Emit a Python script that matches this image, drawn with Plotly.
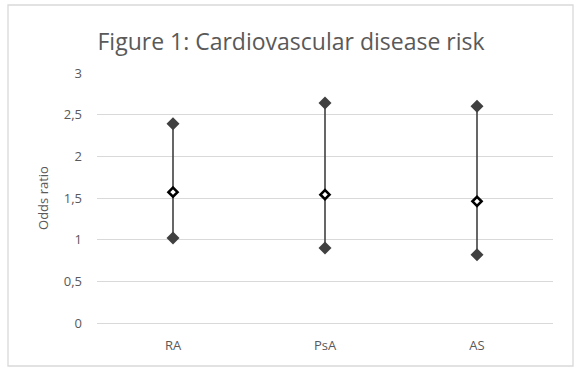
import plotly.graph_objects as go

categories = ["RA", "PsA", "AS"]
upper = [2.39, 2.64, 2.60]
mid = [1.57, 1.54, 1.46]
lower = [1.02, 0.90, 0.82]
y_ticks = [0, 0.5, 1, 1.5, 2, 2.5, 3]
y_tick_labels = ["0", "0,5", "1", "1,5", "2", "2,5", "3"]

FONT = "Open Sans"
GREY_TXT = "#595959"
LINE = "#404040"

fig = go.Figure()

# high-low lines with diamond end markers
for c, lo, hi in zip(categories, lower, upper):
    fig.add_trace(go.Scatter(
        x=[c, c], y=[lo, hi], mode="lines+markers",
        line=dict(color=LINE, width=1.6),
        marker=dict(symbol="diamond", size=10, color=LINE),
        showlegend=False, hoverinfo="y"))

fig.add_trace(go.Scatter(
    x=categories, y=mid, mode="markers",
    marker=dict(symbol="diamond", size=7, color="white",
                line=dict(color="black", width=2.6)),
    showlegend=False, hoverinfo="y"))

W, H = 582, 374
L, R, T, B = 97, 29, 73, 51
pw, ph = W - L - R, H - T - B

def px(x):
    return (x - L) / pw

def py(y):
    return (H - B - y) / ph

fig.add_shape(type="rect", xref="paper", yref="paper",
              x0=px(8), x1=px(573), y0=py(366), y1=py(5),
              line=dict(color="#d9d9d9", width=1.3), fillcolor="rgba(0,0,0,0)",
              layer="below")

fig.update_layout(
    width=W, height=H,
    margin=dict(l=L, r=R, t=T, b=B),
    paper_bgcolor="white", plot_bgcolor="white",
    title=dict(text="Figure 1: Cardiovascular disease risk",
               font=dict(family=FONT, size=23, color=GREY_TXT),
               x=0.5, xanchor="center", y=1 - 42 / H, yanchor="middle"),
    font=dict(family=FONT, color=GREY_TXT, size=12),
    xaxis=dict(type="category", range=[-0.5, 2.5], showgrid=False, showline=True,
               linecolor="#d9d9d9", linewidth=1, ticks="",
               ticklabelstandoff=10,
               tickfont=dict(family=FONT, size=13, color=GREY_TXT),
               zeroline=False),
    yaxis=dict(range=[0, 3], tickvals=y_ticks, ticktext=y_tick_labels,
               showgrid=True, gridcolor="#d9d9d9", gridwidth=1,
               zeroline=False, showline=False, ticks="",
               ticklabelstandoff=14,
               title=dict(text="Odds ratio", standoff=12,
                          font=dict(family=FONT, size=13, color=GREY_TXT)),
               tickfont=dict(family=FONT, size=13, color=GREY_TXT)),
)

fig.write_html("out.html", config={"displayModeBar": False},
               post_script="document.body.style.margin='0';")
